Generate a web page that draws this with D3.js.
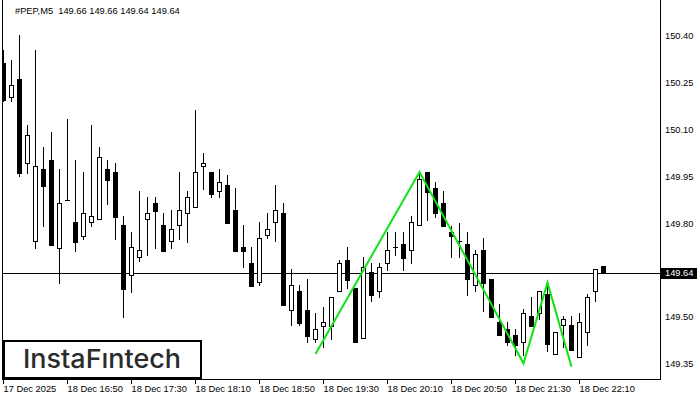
<!DOCTYPE html>
<html>
<head>
<meta charset="utf-8">
<title>#PEP,M5</title>
<style>
  body { margin: 0; background: #fff; }
  svg { display: block; }
  .axis text { font-family: "Liberation Sans", Arial, sans-serif; font-size: 9.3px; fill: #000; }
</style>
</head>
<body>
<div id="chart"></div>
<script src="https://cdn.jsdelivr.net/npm/d3@7"></script>
<script>
// OHLC for each 5 minute bar
const opens = [150.312,150.201,150.259,149.990,149.740,149.972,150.001,149.720,149.872,149.802,
  149.758,149.801,149.811,149.972,149.961,149.793,149.632,149.689,149.811,149.862,
  149.793,149.740,149.792,149.830,149.849,149.980,149.961,149.900,149.921,149.841,
  149.722,149.671,149.609,149.760,149.801,149.831,149.520,149.581,149.521,149.429,
  149.470,149.470,149.580,149.681,149.591,149.430,149.641,149.580,149.670,149.721,
  149.732,149.712,149.792,149.962,149.910,149.863,149.769,149.742,149.731,149.600,
  149.713,149.619,149.481,149.460,149.440,149.419,149.501,149.510,149.572,149.379,
  149.471,149.472,149.369,149.449,149.580,149.660];
const highs = [150.353,150.321,150.401,150.112,150.353,150.042,150.090,149.972,150.132,150.001,
  149.962,150.113,150.042,150.001,149.991,149.821,149.770,149.901,149.882,149.882,
  149.831,149.841,149.962,149.901,150.161,150.023,149.961,149.971,149.953,149.911,
  149.793,149.722,149.802,149.831,149.921,149.863,149.651,149.600,149.620,149.510,
  149.531,149.562,149.681,149.722,149.591,149.689,149.670,149.670,149.770,149.770,
  149.770,149.821,149.960,149.962,149.930,149.900,149.790,149.799,149.770,149.713,
  149.750,149.619,149.540,149.481,149.460,149.524,149.563,149.580,149.606,149.449,
  149.500,149.500,149.510,149.572,149.651,149.660];
const lows = [150.190,150.190,149.950,149.960,149.719,149.790,149.730,149.608,149.872,149.710,
  149.749,149.790,149.811,149.861,149.749,149.499,149.579,149.678,149.698,149.720,
  149.710,149.720,149.749,149.739,149.849,149.909,149.881,149.881,149.800,149.710,
  149.659,149.598,149.600,149.750,149.740,149.538,149.472,149.472,149.419,149.419,
  149.403,149.428,149.580,149.590,149.419,149.430,149.550,149.561,149.649,149.698,
  149.649,149.670,149.792,149.809,149.819,149.790,149.689,149.689,149.570,149.580,
  149.518,149.499,149.440,149.409,149.378,149.378,149.470,149.491,149.389,149.379,
  149.401,149.391,149.369,149.410,149.550,149.640];
const closes = [150.193,150.240,149.960,150.080,149.981,149.918,149.730,149.863,149.872,149.739,
  149.831,149.820,150.010,149.938,149.819,149.589,149.721,149.712,149.830,149.838,
  149.710,149.779,149.840,149.881,149.961,149.990,149.891,149.929,149.800,149.710,
  149.710,149.598,149.750,149.779,149.840,149.538,149.600,149.480,149.438,149.459,
  149.481,149.562,149.670,149.618,149.419,149.659,149.570,149.659,149.713,149.721,
  149.688,149.802,149.939,149.899,149.830,149.790,149.758,149.742,149.619,149.699,
  149.608,149.499,149.440,149.418,149.409,149.510,149.470,149.580,149.411,149.449,
  149.491,149.391,149.481,149.561,149.651,149.640];

// zigzag pattern drawn over the bars
const patternBars = [39, 52, 65, 68, 71];
const patternPrices = [149.380, 149.962, 149.350, 149.608, 149.339];

// 149.65 sits under the last price box, so it is not listed
const priceTicks = [149.35, 149.50, 149.80, 149.95, 150.10, 150.25, 150.40];
const timeBars = [0, 8, 16, 24, 32, 40, 48, 56, 64, 72];
const timeLabels = ["17 Dec 2025", "18 Dec 16:50", "18 Dec 17:30", "18 Dec 18:10", "18 Dec 18:50",
  "18 Dec 19:30", "18 Dec 20:10", "18 Dec 20:50", "18 Dec 21:30", "18 Dec 22:10"];
const lastPrice = 149.64;
const header = "#PEP,M5  149.66 149.66 149.64 149.64";

const width = 700, height = 400;
const left = 2, right = 660, bottom = 379;

const svg = d3.select("#chart").append("svg")
  .attr("width", width)
  .attr("height", height)
  .style("shape-rendering", "crispEdges");

const x = d3.scaleLinear().domain([0, 75]).range([3, 603]);
const y = d3.scaleLinear().domain([149.35, 150.40]).range([363.3, 35.2]);

svg.append("clipPath").attr("id", "plot")
  .append("rect").attr("x", left + 1).attr("y", 0).attr("width", right - left - 1).attr("height", bottom);

const bars = d3.range(opens.length).map(i => ({
  i: i, o: opens[i], h: highs[i], l: lows[i], c: closes[i]
}));

const plot = svg.append("g").attr("clip-path", "url(#plot)");

// current price line
plot.append("line")
  .attr("x1", left).attr("x2", right)
  .attr("y1", Math.round(y(lastPrice)) + 0.5).attr("y2", Math.round(y(lastPrice)) + 0.5)
  .attr("stroke", "#000");

const candle = plot.selectAll(".candle")
  .data(bars)
  .enter()
  .append("g")
  .attr("class", "candle");

candle.append("line")
  .attr("x1", d => Math.round(x(d.i)) + 0.5)
  .attr("x2", d => Math.round(x(d.i)) + 0.5)
  .attr("y1", d => Math.round(y(d.h)))
  .attr("y2", d => Math.round(y(d.l)) + 1)
  .attr("stroke", "#000");

candle.append("rect")
  .attr("x", d => Math.round(x(d.i)) - 2 + (d.c > d.o ? 0.5 : 0))
  .attr("y", d => Math.round(y(Math.max(d.o, d.c))) + (d.c > d.o ? 0.5 : 0))
  .attr("width", d => d.c > d.o ? 4 : 5)
  .attr("height", d => Math.max(1, Math.round(y(Math.min(d.o, d.c))) - Math.round(y(Math.max(d.o, d.c))) + (d.c > d.o ? 0 : 1)))
  .attr("fill", d => d.c > d.o ? "#fff" : "#000")
  .attr("stroke", d => d.c > d.o ? "#000" : "none");

// zigzag
plot.append("path")
  .datum(patternBars.map((b, k) => [x(b) + 0.5, y(patternPrices[k])]))
  .attr("d", d3.line())
  .attr("fill", "none")
  .attr("stroke", "#11e311")
  .attr("stroke-width", 2)
  .style("shape-rendering", "auto");

// frame
svg.append("path")
  .attr("d", `M${left + 0.5},0V${bottom + 0.5}H${right + 0.5}V0`)
  .attr("fill", "none")
  .attr("stroke", "#000");

// price axis
const yAxis = svg.append("g")
  .attr("class", "axis")
  .attr("transform", `translate(${right},0)`)
  .call(d3.axisRight(y).tickValues(priceTicks).tickFormat(d3.format(".2f")).tickSize(0).tickPadding(5));
yAxis.select(".domain").remove();
yAxis.selectAll("text").attr("dy", "0.36em");

// last price box
svg.append("rect")
  .attr("x", right).attr("y", Math.round(y(lastPrice)) - 5)
  .attr("width", 37).attr("height", 11)
  .attr("fill", "#000");
svg.append("text")
  .attr("x", right + 5).attr("y", y(lastPrice) + 3.6)
  .attr("font-family", "Liberation Sans, Arial, sans-serif")
  .attr("font-size", 9.3)
  .attr("fill", "#fff")
  .text(d3.format(".2f")(lastPrice));

// time axis
const xAxis = svg.append("g")
  .attr("class", "axis")
  .attr("transform", `translate(0,${bottom})`)
  .call(d3.axisBottom(x).tickValues(timeBars).tickFormat((d, k) => timeLabels[k]).tickSize(5).tickPadding(1));
xAxis.select(".domain").remove();
xAxis.selectAll(".tick line").attr("stroke", "#000");
xAxis.selectAll(".tick").attr("transform", d => `translate(${Math.round(x(d)) + 0.5},0)`);
xAxis.selectAll("text").attr("text-anchor", "start").attr("x", 0).attr("y", 6).attr("dy", "0.71em");

// header
svg.append("text")
  .attr("x", 15).attr("y", 14)
  .attr("font-family", "Liberation Sans, Arial, sans-serif")
  .attr("font-size", 9.3)
  .attr("fill", "#000")
  .attr("xml:space", "preserve")
  .style("white-space", "pre")
  .text(header);

// watermark
svg.append("rect")
  .attr("x", 4).attr("y", 341)
  .attr("width", 197).attr("height", 37)
  .attr("fill", "#fff")
  .attr("stroke", "#000")
  .attr("stroke-width", 2);
svg.append("text")
  .attr("x", 23).attr("y", 368)
  .attr("font-family", "Inter, Roboto, sans-serif")
  .attr("font-weight", 500)
  .attr("font-size", 26)
  .attr("textLength", 158)
  .attr("lengthAdjust", "spacingAndGlyphs")
  .attr("fill", "#2b2b2b")
  .style("shape-rendering", "auto")
  .text("InstaFıntech");
</script>
</body>
</html>
